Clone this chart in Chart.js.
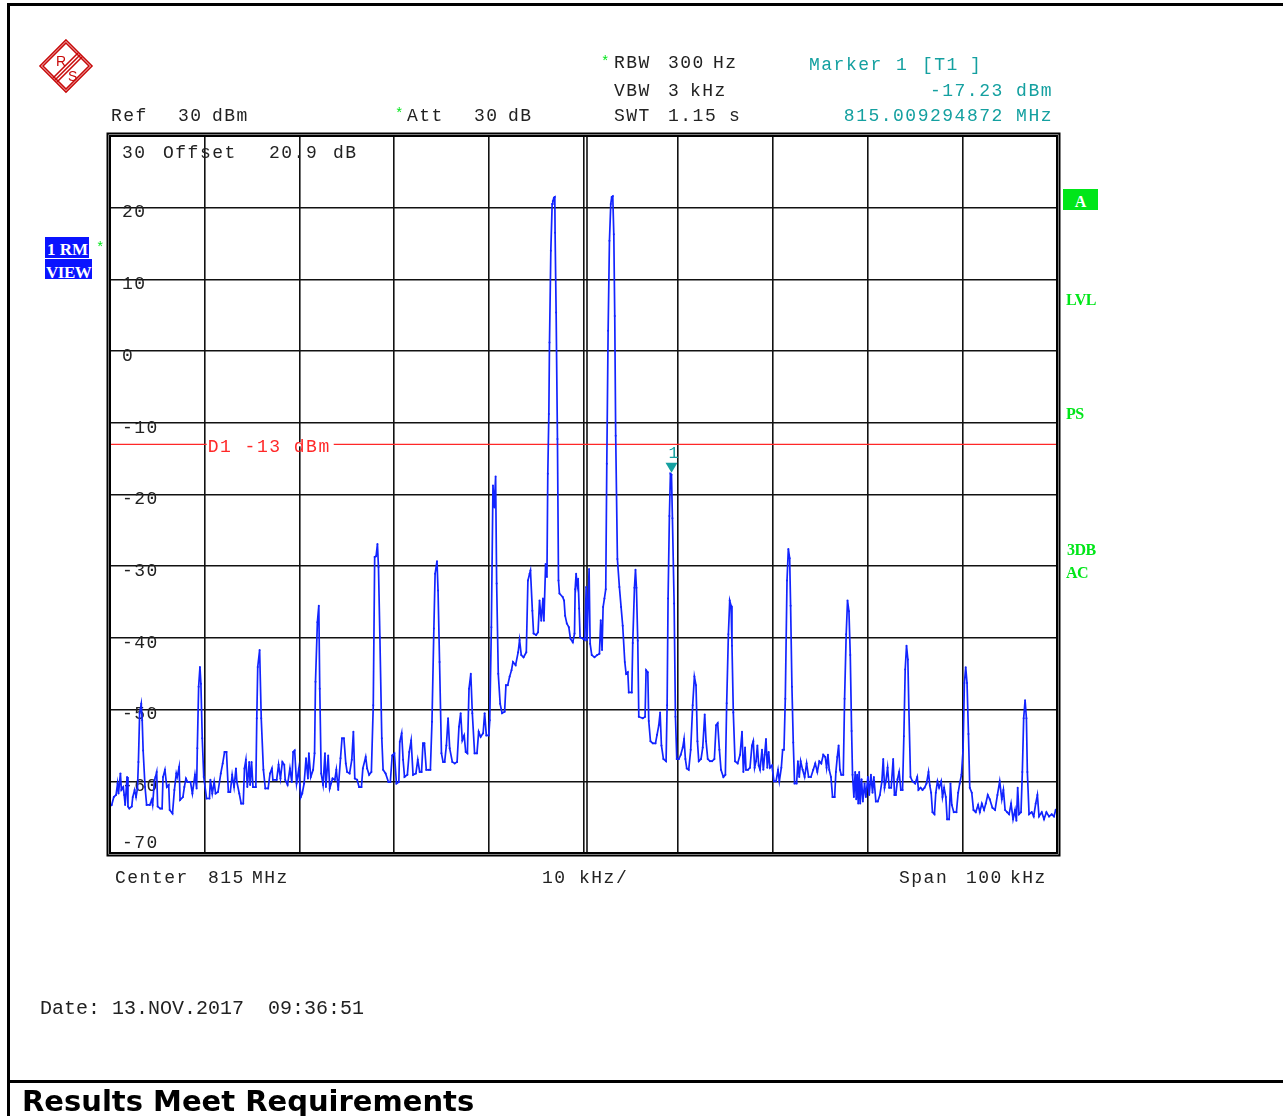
<!DOCTYPE html>
<html>
<head>
<meta charset="utf-8">
<script src="https://cdn.jsdelivr.net/npm/chart.js@4.4.0/dist/chart.umd.min.js"></script>
<style>
  body { margin:0; background:#fff; }
  #wrap { position:relative; width:1283px; height:1116px; overflow:hidden; background:#fff; }
  #c { position:absolute; left:0; top:0; }
  .t { position:absolute; white-space:pre; font-family:"Liberation Mono", monospace; font-size:18px; letter-spacing:1.5px; color:#222; line-height:20px; height:20px; }
  .g { position:absolute; white-space:pre; font-family:"Liberation Serif", serif; font-weight:bold; font-size:16px; color:#00e619; line-height:16px; }
  .ln { position:absolute; background:#000; }
</style>
</head>
<body>
<div id="wrap">
<canvas id="c" width="1283" height="1116"></canvas>
</div>
<script>
// ---------------- DATA ----------------
const freqKHz = [
-50.0,-49.82,-49.6,-49.36,-49.2,-49.1,-48.9,-48.8,-48.6,-48.5,-48.4,-48.2,-48.1,-47.96,-47.7,-47.6,-47.4,-47.25,-47.1,-47.0,
-46.87,-46.7,-46.6,-46.5,-46.3,-46.13,-45.8,-45.6,-45.5,-45.3,-45.2,-45.07,-44.97,-44.7,-44.5,-44.4,-44.2,-44.0,-43.8,-43.7,
-43.4,-43.2,-43.0,-42.9,-42.7,-42.6,-42.3,-42.15,-41.98,-41.8,-41.5,-41.3,-41.03,-40.85,-40.78,-40.64,-40.5,-40.4,-40.26,-40.1,
-39.8,-39.5,-39.4,-39.2,-39.0,-38.85,-38.6,-38.3,-38.1,-37.9,-37.7,-37.5,-37.3,-37.1,-36.9,-36.7,-36.6,-36.35,-36.15,-35.93,
-35.8,-35.65,-35.5,-35.3,-35.2,-35.05,-34.9,-34.6,-34.5,-34.4,-34.2,-34.03,-33.8,-33.6,-33.3,-33.1,-32.9,-32.8,-32.4,-32.2,
-32.0,-31.8,-31.6,-31.5,-31.25,-31.0,-30.8,-30.66,-30.5,-30.3,-30.06,-29.95,-29.85,-29.7,-29.5,-29.3,-29.1,-29.0,-28.8,-28.55,
-28.4,-28.3,-28.1,-27.95,-27.85,-27.7,-27.5,-27.3,-27.2,-26.96,-26.8,-26.5,-26.26,-26.1,-25.9,-25.66,-25.5,-25.3,-25.1,-24.96,
-24.7,-24.47,-24.3,-24.15,-23.9,-23.7,-23.45,-23.3,-23.0,-22.85,-22.64,-22.4,-22.2,-22.05,-21.9,-21.76,-21.65,-21.5,-21.3,-21.16,
-20.9,-20.6,-20.4,-20.2,-19.97,-19.75,-19.5,-19.4,-19.2,-19.05,-18.9,-18.6,-18.4,-18.2,-18.0,-17.7,-17.5,-17.3,-17.1,-16.95,
-16.8,-16.6,-16.35,-16.17,-16.0,-15.8,-15.67,-15.47,-15.36,-15.2,-15.0,-14.83,-14.66,-14.48,-14.3,-14.13,-13.85,-13.6,-13.35,-13.15,
-12.97,-12.8,-12.6,-12.44,-12.26,-12.09,-11.9,-11.74,-11.5,-11.25,-11.07,-10.86,-10.6,-10.44,-10.26,-10.0,-9.9,-9.73,-9.56,-9.42,
-9.28,-9.17,-9.0,-8.8,-8.6,-8.33,-8.19,-8.0,-7.8,-7.6,-7.45,-7.17,-6.9,-6.75,-6.57,-6.33,-6.04,-5.87,-5.69,-5.6,
-5.4,-5.27,-5.0,-4.8,-4.64,-4.46,-4.28,-4.18,-4.0,-3.86,-3.77,-3.66,-3.59,-3.45,-3.31,-3.24,-3.13,-3.03,-3.0,-2.89,
-2.75,-2.64,-2.54,-2.2,-2.05,-1.94,-1.76,-1.55,-1.38,-1.13,-0.95,-0.88,-0.78,-0.67,-0.57,-0.46,-0.36,-0.07,0.14,0.28,
0.38,0.49,0.59,0.7,0.87,1.16,1.44,1.68,1.82,1.96,2.07,2.21,2.35,2.46,2.6,2.74,2.88,2.98,3.09,3.2,
3.3,3.4,3.58,3.79,3.97,4.14,4.36,4.5,4.68,4.78,5.1,5.2,5.38,5.49,5.59,5.73,5.84,6.26,6.5,6.61,
6.79,6.89,7.07,7.32,7.6,7.77,7.95,8.09,8.23,8.44,8.72,8.83,8.93,9.07,9.18,9.29,9.39,9.57,9.71,9.85,
10.06,10.27,10.48,10.62,10.76,10.9,11.11,11.32,11.53,11.71,11.88,12.03,12.17,12.41,12.59,12.8,12.94,13.12,13.36,13.57,
13.82,14.0,14.17,14.35,14.52,14.77,14.98,15.12,15.3,15.44,15.58,15.68,15.82,16.0,16.28,16.53,16.74,16.88,17.06,17.16,
17.37,17.58,17.79,17.93,18.07,18.22,18.36,18.5,18.64,18.85,18.99,19.13,19.27,19.41,19.55,19.69,19.9,20.11,20.33,20.54,
20.68,20.89,21.03,21.17,21.31,21.49,21.63,21.77,21.87,22.01,22.15,22.29,22.5,22.64,22.78,22.93,23.14,23.35,23.56,23.77,
24.02,24.26,24.47,24.69,24.9,25.11,25.32,25.53,25.67,25.81,25.95,26.13,26.3,26.52,26.65,26.8,26.94,27.08,27.22,27.43,
27.57,27.74,27.88,28.03,28.17,28.31,28.41,28.55,28.69,28.8,28.9,29.01,29.11,29.22,29.36,29.5,29.68,29.82,30.03,30.17,
30.35,30.52,30.66,30.87,31.08,31.3,31.51,31.65,31.79,31.93,32.11,32.28,32.49,32.7,32.84,32.98,33.16,33.33,33.51,33.69,
33.83,33.97,34.11,34.25,34.36,34.53,34.74,35.02,35.24,35.37,35.59,35.8,36.01,36.22,36.43,36.57,36.71,36.85,37.06,37.2,
37.38,37.55,37.77,37.91,38.08,38.26,38.4,38.61,38.75,38.89,39.1,39.38,39.56,39.73,39.91,40.08,40.22,40.36,40.5,40.65,
40.79,41.0,41.18,41.42,41.67,41.85,42.06,42.3,42.48,42.69,42.9,43.18,43.46,43.71,43.95,44.17,44.34,44.52,44.73,44.94,
45.15,45.36,45.57,45.71,45.85,45.99,46.2,46.34,46.48,46.63,46.77,46.87,47.05,47.33,47.54,47.75,47.93,48.1,48.39,48.63,
48.88,49.16,49.44,49.68,49.86,50.0
];
const levelDbm = [
-63.5,-63.3,-62.2,-61.9,-60.3,-61.7,-58.9,-61.2,-60.8,-61.9,-63.3,-59.4,-63.5,-63.8,-63.5,-62.2,-61.2,-62.2,-61.0,-57.3,
-50.5,-49.2,-51.5,-55.7,-60.8,-63.3,-63.3,-62.6,-63.3,-59.8,-59.4,-58.7,-63.5,-63.8,-63.8,-59.4,-58.4,-60.8,-60.5,-64.0,
-64.5,-61.2,-58.9,-59.4,-58.0,-62.6,-62.2,-60.8,-59.6,-60.1,-60.1,-61.7,-59.1,-61.0,-55.4,-46.8,-44.05,-46.4,-54.0,-59.4,
-62.4,-62.4,-59.8,-61.7,-60.1,-61.7,-61.5,-58.9,-57.5,-55.9,-55.9,-61.5,-61.5,-59.1,-60.8,-58.2,-60.1,-61.7,-63.1,-63.1,
-58.2,-57.0,-60.8,-57.3,-60.5,-57.3,-60.8,-60.8,-51.2,-44.05,-41.7,-51.2,-58.4,-61.0,-61.0,-58.9,-58.2,-59.8,-59.8,-57.7,
-59.6,-57.3,-57.7,-59.8,-60.5,-58.2,-60.1,-55.9,-55.7,-60.3,-58.2,-60.5,-62.2,-61.7,-60.3,-56.8,-59.6,-56.1,-59.4,-58.4,
-56.1,-46.1,-37.8,-35.5,-47.1,-58.9,-60.5,-56.1,-60.8,-56.4,-61.0,-59.6,-59.8,-58.4,-61.2,-56.8,-54.0,-54.0,-57.5,-58.7,
-58.9,-57.0,-53.1,-59.6,-59.8,-60.8,-60.8,-58.2,-56.6,-58.2,-59.1,-58.7,-49.4,-28.7,-28.6,-26.9,-30.1,-39.9,-54.0,-58.4,
-58.9,-60.1,-60.1,-56.4,-56.1,-60.3,-60.1,-54.5,-53.3,-57.0,-59.4,-59.1,-55.9,-54.3,-59.1,-58.9,-57.0,-58.7,-58.7,-54.7,
-54.7,-58.4,-58.4,-58.4,-51.7,-38.7,-31.05,-29.3,-33.4,-43.35,-56.1,-57.3,-57.3,-55.0,-51.2,-55.4,-57.3,-57.5,-57.3,-52.4,
-50.5,-54.3,-53.6,-55.9,-56.1,-47.1,-45.0,-50.5,-56.1,-56.1,-53.1,-53.8,-53.3,-50.5,-53.6,-53.6,-51.5,-38.5,-18.75,-21.8,
-17.5,-32.4,-45.0,-49.2,-50.5,-50.3,-46.6,-46.6,-45.4,-44.5,-43.35,-43.8,-42.0,-40.3,-42.4,-42.7,-42.0,-32.0,-31.05,-30.6,
-36.2,-39.4,-39.6,-39.2,-34.8,-37.6,-34.5,-37.6,-29.7,-31.5,-17.1,-8.77,1.2,13.98,20.5,20.9,21.4,21.5,16.5,5.4,
-12.25,-32.0,-33.8,-34.3,-34.8,-36.9,-38.0,-38.5,-40.1,-40.6,-39.4,-33.2,-31.05,-32.7,-31.75,-35.9,-39.9,-40.1,-40.3,-32.9,
-40.3,-34.8,-30.4,-40.8,-42.4,-42.7,-42.4,-42.2,-37.55,-41.7,-35.7,-34.5,-33.2,-15.7,2.84,15.4,20.5,21.5,21.6,16.3,
4.9,-11.8,-29.0,-32.9,-35.7,-38.3,-43.35,-45.0,-44.8,-47.6,-47.6,-40.7,-33.0,-30.5,-33.0,-40.4,-51.0,-51.2,-51.0,-44.5,
-44.8,-51.6,-54.4,-54.7,-54.7,-53.5,-52.2,-50.4,-55.0,-56.9,-57.2,-49.4,-34.5,-23.0,-17.1,-17.23,-23.3,-35.2,-51.0,-56.9,
-56.9,-56.3,-55.3,-54.1,-56.9,-58.2,-58.4,-55.6,-49.4,-45.4,-46.6,-54.4,-57.2,-56.9,-55.3,-50.7,-54.4,-56.9,-57.2,-57.2,
-56.9,-52.2,-51.9,-55.6,-58.4,-59.4,-59.1,-49.1,-39.5,-34.8,-35.5,-41.1,-50.4,-57.2,-57.5,-56.3,-53.1,-58.7,-55.3,-58.4,
-58.4,-58.1,-55.0,-54.4,-58.1,-57.2,-55.0,-57.8,-58.4,-55.6,-58.4,-56.3,-54.1,-58.1,-55.9,-58.1,-57.8,-60.0,-60.0,-58.4,
-60.0,-58.1,-55.6,-55.6,-48.5,-32.0,-27.6,-28.9,-35.5,-46.8,-54.6,-60.3,-60.3,-57.2,-59.4,-57.2,-58.4,-59.4,-57.5,-59.4,
-59.4,-58.4,-57.5,-58.7,-57.2,-57.5,-56.3,-56.6,-58.1,-56.3,-58.4,-59.4,-62.2,-62.2,-58.7,-56.6,-55.0,-58.4,-59.1,-59.1,
-48.5,-39.5,-34.8,-36.3,-42.4,-53.0,-59.1,-62.2,-58.7,-62.5,-59.1,-63.1,-58.7,-63.1,-59.7,-62.8,-60.3,-62.2,-59.4,-61.9,
-59.1,-61.6,-59.4,-62.8,-62.8,-61.9,-60.0,-56.9,-60.9,-60.0,-58.1,-60.9,-60.9,-56.9,-61.9,-61.9,-59.7,-58.7,-61.2,-61.2,
-53.7,-44.4,-41.1,-43.0,-50.0,-59.4,-60.0,-60.3,-59.4,-61.2,-60.9,-61.2,-60.9,-60.3,-58.7,-60.6,-61.6,-64.3,-64.6,-61.6,
-60.0,-60.9,-60.0,-62.2,-60.9,-62.2,-65.3,-65.3,-60.3,-63.3,-64.3,-64.3,-61.6,-60.3,-59.1,-55.6,-46.3,-44.1,-46.3,-53.4,
-60.9,-61.6,-64.0,-64.3,-63.3,-64.3,-63.1,-64.0,-63.1,-61.9,-62.5,-63.7,-64.0,-61.9,-60.0,-62.5,-61.2,-64.0,-64.3,-64.6,
-63.1,-65.3,-64.0,-65.5,-60.9,-64.6,-64.3,-58.7,-51.2,-48.7,-51.2,-58.7,-64.6,-64.3,-64.9,-63.1,-61.9,-64.9,-64.3,-65.3,
-64.3,-64.9,-64.6,-64.9,-64.0,-63.8
];
const limitLineDbm = -13;
const limitLabel = 'D1 -13 dBm';
const markerFreqKHz = 9.294872;
const markerLevelDbm = -17.23;
const xMinKHz = -50, xMaxKHz = 50, xStepKHz = 10;
const yMinDbm = -70, yMaxDbm = 30, yStepDbm = 10;
const yTickValues = [30, 20, 10, 0, -10, -20, -30, -40, -50, -60, -70];
const yTickLabels = ['30', '20', '10', '0', '-10', '-20', '-30', '-40', '-50', '-60', '-70'];

// ---------------- STYLE ----------------
const TRACE = 'rgb(18,36,255)';
const RED = 'rgb(255,40,40)';
const TEAL = '#14a0a0';
const GREEN = '#00e619';
const RSFONT = '"Liberation Mono", monospace';

const wrap = document.getElementById('wrap');
function addText(s, x, y, opt) {
  opt = opt || {};
  const d = document.createElement('div');
  d.className = opt.cls || 't';
  d.textContent = s;
  if (opt.right) d.style.right = (1283 - x) + 'px'; else d.style.left = x + 'px';
  d.style.top = (y - 10) + 'px';
  if (opt.color) d.style.color = opt.color;
  if (opt.css) Object.assign(d.style, opt.css);
  wrap.appendChild(d);
  return d;
}
function addLine(x, y, w, h) {
  const d = document.createElement('div');
  d.className = 'ln';
  Object.assign(d.style, {left: x + 'px', top: y + 'px', width: w + 'px', height: h + 'px'});
  wrap.appendChild(d);
}
// page frame
addLine(7, 3, 2.5, 1113);
addLine(7, 3, 1276, 2.5);
addLine(7, 1079.5, 1276, 3);

// header texts
addText('Ref', 111, 116); addText('30', 178, 116); addText('dBm', 212, 116);
addText('*', 395, 114, {color: GREEN, css: {fontSize: '14px'}});
addText('Att', 407, 116); addText('30', 474, 116); addText('dB', 508, 116);
addText('*', 601, 62, {color: GREEN, css: {fontSize: '14px'}});
addText('RBW', 614, 63); addText('300', 668, 63); addText('Hz', 713, 63);
addText('VBW', 614, 91); addText('3', 668, 91); addText('kHz', 690, 91);
addText('SWT', 614, 116); addText('1.15', 668, 116); addText('s', 729, 116);
addText('Marker', 809, 65, {color: TEAL}); addText('1', 896, 65, {color: TEAL});
addText('[T1', 922, 65, {color: TEAL}); addText(']', 970, 65, {color: TEAL});
addText('-17.23 dBm', 1053, 91, {color: TEAL, right: true});
addText('815.009294872 MHz', 1053, 116, {color: TEAL, right: true});
addText('Offset', 163, 153); addText('20.9', 269, 153); addText('dB', 333, 153);
addText('Center', 115, 878); addText('815', 208, 878); addText('MHz', 252, 878);
addText('10', 542, 878); addText('kHz/', 579, 878);
addText('Span', 899, 878); addText('100', 966, 878); addText('kHz', 1010, 878);
addText('Date: 13.NOV.2017  09:36:51', 40, 1009, {css: {fontFamily: '"Liberation Mono", monospace', fontSize: '20px', letterSpacing: '0px', color: '#222'}});
addText('Results Meet Requirements', 22, 1096, {css: {fontFamily: '"DejaVu Sans", sans-serif', fontWeight: 'bold', fontSize: '29px', letterSpacing: '0px', color: '#000', lineHeight: '30px', height: '30px'}});

// left blue labels
addText('1 RM', 45, 247, {css: {background: '#0a14ff', color: '#fff', width: '44px', height: '21px', lineHeight: '25px', fontFamily: '"Liberation Serif", serif', fontSize: '17px', fontWeight: 'bold', letterSpacing: '0px', overflow: 'hidden', paddingLeft: '2px', boxSizing: 'border-box'}});
addText('VIEW', 45, 269, {css: {background: '#0a14ff', color: '#fff', width: '47px', height: '20px', lineHeight: '27px', fontFamily: '"Liberation Serif", serif', fontSize: '17px', fontWeight: 'bold', letterSpacing: '-0.5px', overflow: 'hidden', paddingLeft: '1px', boxSizing: 'border-box'}});
addText('*', 96, 248, {color: GREEN, css: {fontSize: '14px'}});

// right green labels
addText('A', 1063, 199, {cls: 'g', css: {background: GREEN, color: '#fff', width: '35px', height: '21px', lineHeight: '26px', textAlign: 'center'}});
addText('LVL', 1066, 302, {cls: 'g', css: {letterSpacing: '-0.5px'}});
addText('PS', 1066, 416, {cls: 'g', css: {letterSpacing: '-0.5px'}});
addText('3DB', 1067, 552, {cls: 'g', css: {letterSpacing: '-0.5px'}});
addText('AC', 1066, 575, {cls: 'g', css: {letterSpacing: '-0.5px'}});

// R&S logo
const logo = document.createElementNS('http://www.w3.org/2000/svg', 'svg');
logo.setAttribute('width', '60'); logo.setAttribute('height', '60');
logo.style.position = 'absolute'; logo.style.left = '36px'; logo.style.top = '36px';
logo.innerHTML = '<g fill="none" stroke="#c80a0a" stroke-width="1.6">' +
  '<path d="M30 4 L56 30 L30 56 L4 30 Z"/><path d="M30 7 L53 30 L30 53 L7 30 Z"/>' +
  '<path d="M42 17 L17 42"/><path d="M44 19 L19 44"/><path d="M46 21 L21 46"/></g>' +
  '<text x="20" y="30" font-family="Liberation Sans" font-size="14" fill="#c80a0a">R</text>' +
  '<text x="32" y="45" font-family="Liberation Sans" font-size="14" fill="#c80a0a">S</text>';
wrap.appendChild(logo);

// ---------------- CHART ----------------
const tracePoints = freqKHz.map((f, i) => ({x: f, y: levelDbm[i]}));
const limitPoints = [{x: xMinKHz, y: limitLineDbm}, {x: xMaxKHz, y: limitLineDbm}];

const rsPlugin = {
  id: 'rs',
  beforeDatasetsDraw(chart) {
    const ctx = chart.ctx, ys = chart.scales.y, a = chart.chartArea;
    ctx.save();
    ctx.font = '18px ' + RSFONT;
    ctx.letterSpacing = '1.5px';
    ctx.fillStyle = '#222';
    ctx.textBaseline = 'middle';
    ctx.textAlign = 'left';
    yTickValues.forEach((v, i) => {
      let y = ys.getPixelForValue(v) + 5;
      if (v === yMaxDbm) y = a.top + 17;
      if (v === yMinDbm) y = a.bottom - 10;
      ctx.fillText(yTickLabels[i], a.left + 12, y);
    });
    // center double line
    const xc = chart.scales.x.getPixelForValue((xMinKHz + xMaxKHz) / 2);
    ctx.strokeStyle = '#111'; ctx.lineWidth = 1.6;
    ctx.beginPath(); ctx.moveTo(xc + 3.5, a.top); ctx.lineTo(xc + 3.5, a.bottom); ctx.stroke();
    ctx.restore();
  },
  afterDatasetsDraw(chart) {
    const ctx = chart.ctx, xs = chart.scales.x, ys = chart.scales.y;
    ctx.save();
    // limit line label
    ctx.font = '18px ' + RSFONT;
    ctx.letterSpacing = '1.5px';
    const lx = xs.getPixelForValue(xMinKHz + xStepKHz) + 2;
    const ly = ys.getPixelForValue(limitLineDbm);
    const w = ctx.measureText(limitLabel).width;
    ctx.fillStyle = '#fff';
    ctx.fillRect(lx, ly - 2, w + 4, 4);
    ctx.fillStyle = RED;
    ctx.textBaseline = 'middle';
    ctx.fillText(limitLabel, lx + 1, ly + 3);
    // marker
    const mx = xs.getPixelForValue(markerFreqKHz), my = ys.getPixelForValue(markerLevelDbm);
    ctx.fillStyle = TEAL;
    ctx.beginPath();
    ctx.moveTo(mx - 6, my - 12); ctx.lineTo(mx + 6, my - 12); ctx.lineTo(mx, my - 2); ctx.closePath();
    ctx.fill();
    ctx.font = '17px ' + RSFONT;
    ctx.letterSpacing = '0px';
    ctx.textAlign = 'center';
    ctx.fillText('1', mx + 2, my - 21);
    ctx.restore();
  },
  afterDraw(chart) {
    const ctx = chart.ctx, a = chart.chartArea;
    ctx.save();
    ctx.strokeStyle = '#000';
    ctx.lineWidth = 2;
    ctx.strokeRect(a.left, a.top, a.right - a.left, a.bottom - a.top);
    ctx.strokeRect(a.left - 2.5, a.top - 2.5, a.right - a.left + 5, a.bottom - a.top + 5);
    ctx.restore();
  }
};

new Chart(document.getElementById('c'), {
  type: 'line',
  data: {
    datasets: [
      {
        label: 'Trace 1',
        data: tracePoints,
        borderColor: TRACE,
        backgroundColor: TRACE,
        borderWidth: 1.7,
        pointRadius: 1,
        pointBorderWidth: 0,
        pointBackgroundColor: TRACE,
        tension: 0,
        order: 1
      },
      {
        label: 'D1',
        data: limitPoints,
        borderColor: RED,
        borderWidth: 1.2,
        pointRadius: 0,
        tension: 0,
        order: 2
      }
    ]
  },
  options: {
    responsive: false,
    devicePixelRatio: 1,
    animation: false,
    layout: { padding: { left: 110, top: 136, right: 226, bottom: 263 } },
    plugins: { legend: { display: false }, tooltip: { enabled: false } },
    scales: {
      x: {
        type: 'linear', min: xMinKHz, max: xMaxKHz,
        ticks: { display: false, stepSize: xStepKHz },
        grid: { color: '#111', lineWidth: 1.6, drawTicks: false },
        border: { display: false }
      },
      y: {
        type: 'linear', min: yMinDbm, max: yMaxDbm,
        ticks: { display: false, stepSize: yStepDbm },
        grid: { color: '#111', lineWidth: 1.6, drawTicks: false },
        border: { display: false }
      }
    }
  },
  plugins: [rsPlugin]
});
</script>
</body>
</html>
